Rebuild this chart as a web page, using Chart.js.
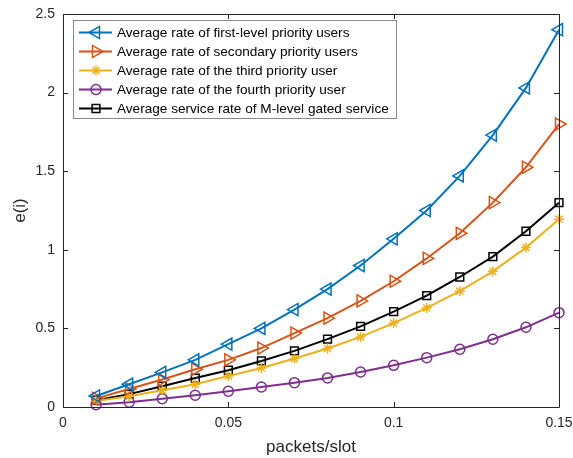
<!DOCTYPE html>
<html>
<head>
<meta charset="utf-8">
<script src="https://cdn.jsdelivr.net/npm/chart.js@4/dist/chart.umd.min.js"></script>
<style>
  html, body { margin: 0; padding: 0; background: #fff; }
  #wrap { width: 573px; height: 458px; }
</style>
</head>
<body>
<div id="wrap"><canvas id="c" width="573" height="458"></canvas></div>
<script>
/* data */
const load = [0.01, 0.02, 0.03, 0.04, 0.05, 0.06, 0.07, 0.08, 0.09, 0.10, 0.11, 0.12, 0.13, 0.14, 0.15];

const firstLevel = [0.07, 0.145, 0.22, 0.30, 0.40, 0.50, 0.62, 0.75, 0.90, 1.07, 1.25, 1.47, 1.73, 2.03, 2.40];
const secondLevel = [0.055, 0.115, 0.175, 0.24, 0.30, 0.375, 0.47, 0.565, 0.675, 0.80, 0.945, 1.105, 1.30, 1.525, 1.80];
const thirdLevel = [0.038, 0.068, 0.106, 0.145, 0.197, 0.248, 0.308, 0.372, 0.446, 0.534, 0.63, 0.737, 0.863, 1.014, 1.195];
const fourthLevel = [0.015, 0.03, 0.053, 0.075, 0.10, 0.127, 0.155, 0.185, 0.223, 0.265, 0.314, 0.367, 0.431, 0.507, 0.60];
const gated = [0.043, 0.082, 0.132, 0.184, 0.234, 0.293, 0.357, 0.432, 0.513, 0.607, 0.709, 0.827, 0.957, 1.118, 1.30];

const seriesNames = [
  "Average rate of first-level priority users",
  "Average rate of secondary priority users",
  "Average rate of the third priority user",
  "Average rate of the fourth priority user",
  "Average service rate of M-level gated service"
];

const xTicks = [0, 0.05, 0.1, 0.15];
const yTicks = [0, 0.5, 1, 1.5, 2, 2.5];

const colors = ['#0072BD', '#D95319', '#EDB120', '#7E2F8E', '#000000'];
const markers = ['triangle', 'triangle', 'star', 'circle', 'rect'];
const rotations = [-90, 90, 0, 0, 0];
const radii = [7, 7, 5, 5, 5.5];

const axisColor = '#262626';
const font = "Arial, 'Liberation Sans', sans-serif";

function toXY(ys){
  return ys.map((v, i) => ({x: load[i], y: v}));
}

const allSeries = [firstLevel, secondLevel, thirdLevel, fourthLevel, gated];

const datasets = allSeries.map((s, i) => ({
  label: seriesNames[i],
  data: toXY(s),
  borderColor: colors[i],
  backgroundColor: colors[i],
  borderWidth: 2,
  pointStyle: markers[i],
  pointRotation: rotations[i],
  pointRadius: radii[i],
  pointHoverRadius: radii[i],
  pointBorderColor: colors[i],
  pointBackgroundColor: 'rgba(0,0,0,0)',
  pointBorderWidth: 1.5,
  tension: 0,
  fill: false,
  clip: false
}));

/* MATLAB style box, inward ticks, legend box */
const boxPlugin = {
  id: 'box',
  afterDatasetsDraw(chart){
    const ctx = chart.ctx;
    const a = chart.chartArea;
    const xs = chart.scales.x, ys = chart.scales.y;
    ctx.save();
    ctx.strokeStyle = axisColor;
    ctx.lineWidth = 1;
    ctx.beginPath();
    ctx.rect(a.left + 0.5, a.top + 0.5, a.right - a.left, a.bottom - a.top);
    const tl = 5;
    for (const t of xTicks){
      const px = Math.round(xs.getPixelForValue(t)) + 0.5;
      ctx.moveTo(px, a.bottom); ctx.lineTo(px, a.bottom - tl);
      ctx.moveTo(px, a.top); ctx.lineTo(px, a.top + tl);
    }
    for (const t of yTicks){
      const py = Math.round(ys.getPixelForValue(t)) + 0.5;
      ctx.moveTo(a.left, py); ctx.lineTo(a.left + tl, py);
      ctx.moveTo(a.right, py); ctx.lineTo(a.right - tl, py);
    }
    ctx.stroke();

    // legend
    const lx = 73.5, ly = 20.5, lw = 323, lh = 98;
    ctx.fillStyle = '#fff';
    ctx.fillRect(lx, ly, lw, lh);
    ctx.strokeStyle = '#8a8a8a';
    ctx.strokeRect(lx, ly, lw, lh);
    ctx.font = "13.6px " + font;
    ctx.textBaseline = 'middle';
    ctx.textAlign = 'left';
    datasets.forEach((d, i) => {
      const cy = 32.5 + i * 19;
      ctx.strokeStyle = d.borderColor;
      ctx.lineWidth = 2;
      ctx.beginPath();
      ctx.moveTo(79, cy); ctx.lineTo(112, cy);
      ctx.stroke();
      ctx.lineWidth = 1.5;
      ctx.fillStyle = 'rgba(0,0,0,0)';
      Chart.helpers.drawPoint(ctx, {
        pointStyle: d.pointStyle, rotation: d.pointRotation,
        radius: d.pointRadius, borderWidth: 1.5
      }, 96, cy);
      ctx.fillStyle = '#000';
      ctx.fillText(d.label, 117, cy + 0.5);
    });
    ctx.restore();
  }
};

new Chart(document.getElementById('c').getContext('2d'), {
  type: 'line',
  data: { datasets: datasets },
  options: {
    responsive: false,
    animation: false,
    layout: { padding: { left: 0, right: 14, top: 14, bottom: 0 } },
    plugins: { legend: { display: false }, tooltip: { enabled: false } },
    scales: {
      x: {
        type: 'linear', min: 0, max: 0.15,
        afterFit(s){ s.height = 51; s.paddingLeft = 0; s.paddingRight = 0; },
        afterBuildTicks(s){ s.ticks = xTicks.map(v => ({value: v})); },
        grid: { display: false, drawTicks: false },
        border: { display: false },
        ticks: { color: axisColor, font: { family: font, size: 14 }, padding: 8, maxRotation: 0,
          callback: v => String(v) },
        title: { display: true, text: 'packets/slot', color: axisColor,
          font: { family: font, size: 17 }, padding: { top: 0, bottom: 0 } }
      },
      y: {
        type: 'linear', min: 0, max: 2.5,
        afterFit(s){ s.width = 63; s.paddingTop = 0; s.paddingBottom = 0; },
        afterBuildTicks(s){ s.ticks = yTicks.map(v => ({value: v})); },
        grid: { display: false, drawTicks: false },
        border: { display: false },
        ticks: { color: axisColor, font: { family: font, size: 14 }, padding: 8,
          callback: v => String(v) },
        title: { display: true, text: 'e(i)', color: axisColor,
          font: { family: font, size: 17 }, padding: { top: 10, bottom: 0 } }
      }
    }
  },
  plugins: [boxPlugin]
});
</script>
</body>
</html>
